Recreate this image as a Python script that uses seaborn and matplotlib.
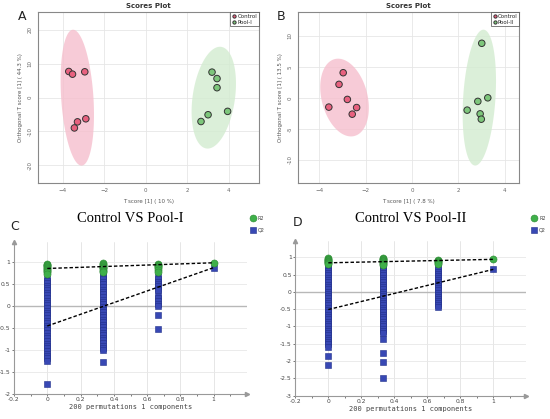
import numpy as np
import pandas as pd
import matplotlib
matplotlib.use("Agg")
import matplotlib.pyplot as plt
import seaborn as sns

sns.set_theme(style="white")
plt.rcParams['font.family'] = ['DejaVu Sans']

# ---------------- Data: score plots ----------------
a_ctrl_t = [-3.70, -3.52, -2.93, -2.88, -3.28, -3.43]
a_ctrl_o = [7.7, 6.9, 7.6, -6.3, -7.2, -9.0]
a_pool_t = [3.19, 3.43, 3.43, 3.94, 3.00, 2.66]
a_pool_o = [7.5, 5.6, 2.9, -4.1, -5.1, -7.1]

b_ctrl_t = [-2.97, -3.15, -2.79, -3.59, -2.39, -2.58]
b_ctrl_o = [4.05, 2.17, -0.26, -1.50, -1.57, -2.64]
b_pool_t = [3.01, 3.27, 2.84, 2.38, 2.94, 2.99]
b_pool_o = [8.8, 0.0, -0.58, -1.99, -2.59, -3.45]

a_xticks = [-4, -2, 0, 2, 4]
a_yticks = [20, 10, 0, -10, -20]
b_xticks = [-4, -2, 0, 2, 4]
b_yticks = [10, 5, 0, -5, -10]

# ---------------- Data: permutation plots ----------------
perm_x = [0, 1/3, 2/3, 1]

c_r2 = [
    [0.97, 0.95, 0.93, 0.91, 0.89, 0.87, 0.85, 0.83, 0.80, 0.77, 0.74],
    [0.98, 0.96, 0.94, 0.92, 0.90, 0.88, 0.86, 0.83, 0.80, 0.77],
    [0.97, 0.95, 0.93, 0.91, 0.89, 0.86, 0.82, 0.78],
    [0.99],
]
c_q2 = [
    [0.62, 0.57, 0.52, 0.46, 0.41, 0.36, 0.30, 0.25, 0.19, 0.13, 0.08, 0.02,
     -0.04, -0.10, -0.15, -0.21, -0.27, -0.33, -0.38, -0.44, -0.50, -0.55,
     -0.61, -0.67, -0.73, -0.79, -0.85, -0.90, -0.96, -1.02, -1.08, -1.14,
     -1.19, -1.25, -1.78],
    [0.72, 0.67, 0.61, 0.55, 0.50, 0.44, 0.38, 0.33, 0.27, 0.21, 0.15, 0.10,
     0.04, -0.02, -0.08, -0.14, -0.19, -0.25, -0.31, -0.37, -0.42, -0.48,
     -0.54, -0.60, -0.66, -0.72, -0.78, -0.84, -0.90, -0.96, -1.00, -1.28],
    [0.66, 0.61, 0.56, 0.51, 0.46, 0.40, 0.36, 0.24, 0.18, 0.12, 0.05, 0.01,
     -0.21, -0.51],
    [0.88],
]
c_r2_int, c_r2_orig = 0.86, 0.99
c_q2_int, c_q2_orig = -0.45, 0.88

d_r2 = [
    [0.97, 0.95, 0.93, 0.91, 0.89, 0.87, 0.85, 0.83, 0.80],
    [0.98, 0.96, 0.94, 0.92, 0.90, 0.88, 0.86, 0.83, 0.80, 0.78],
    [0.92, 0.90, 0.88, 0.86, 0.83, 0.80],
    [0.95],
]
d_q2 = [
    [0.74, 0.68, 0.61, 0.55, 0.48, 0.41, 0.35, 0.28, 0.21, 0.15, 0.08, 0.01,
     -0.06, -0.12, -0.19, -0.26, -0.32, -0.39, -0.46, -0.52, -0.59, -0.66,
     -0.72, -0.79, -0.86, -0.92, -0.99, -1.06, -1.12, -1.19, -1.26, -1.32,
     -1.39, -1.46, -1.52, -1.58, -1.86, -2.11],
    [0.74, 0.68, 0.61, 0.55, 0.48, 0.41, 0.35, 0.28, 0.21, 0.15, 0.08, 0.01,
     -0.06, -0.12, -0.19, -0.26, -0.32, -0.39, -0.46, -0.52, -0.59, -0.66,
     -0.72, -0.79, -0.86, -0.92, -0.99, -1.06, -1.12, -1.20, -1.37, -1.78,
     -2.04, -2.48],
    [0.70, 0.64, 0.58, 0.52, 0.46, 0.40, 0.34, 0.28, 0.22, 0.16, 0.10, 0.04,
     -0.02, -0.08, -0.14, -0.20, -0.26, -0.32, -0.38, -0.44],
    [0.66],
]
d_r2_int, d_r2_orig = 0.84, 0.94
d_q2_int, d_q2_orig = -0.51, 0.65

c_yticks = [1, 0.5, 0, -0.5, -1, -1.5, -2]
d_yticks = [1, 0.5, 0, -0.5, -1, -1.5, -2, -2.5, -3]
perm_xticks = [-0.2, 0, 0.2, 0.4, 0.6, 0.8, 1]

# ---------------- Styling ----------------
CTRL_FILL = "#f6bfcd"
POOL_FILL = "#d3ecd0"
CTRL_PT = "#e8617f"
POOL_PT = "#7dc67b"
R2_COL = "#3fb04a"
R2_EDGE = "#2d8a34"
Q2_COL = "#3848b4"
Q2_EDGE = "#22308a"

W, H = 550, 419
fig = plt.figure(figsize=(W / 100, H / 100), dpi=100)


def ax_px(left, top, right, bottom):
    return fig.add_axes([left / W, 1 - bottom / H, (right - left) / W, (bottom - top) / H])


def conf_ellipse(x, y, n=200):
    x = np.asarray(x); y = np.asarray(y)
    cov = np.cov(x, y)
    vals, vecs = np.linalg.eigh(cov)
    scale = np.sqrt(5.991)
    t = np.linspace(0, 2 * np.pi, n)
    circ = np.vstack([np.cos(t), np.sin(t)])
    pts = vecs @ (np.sqrt(vals)[:, None] * scale * circ)
    return pts[0] + x.mean(), pts[1] + y.mean()


def score_panel(ax, ct, co, pt, po, pool_name, xticks, yticks, xlim, ylim, xlabel, ylabel):
    for tx, oy, col in [(ct, co, CTRL_FILL), (pt, po, POOL_FILL)]:
        ex, ey = conf_ellipse(tx, oy)
        ax.fill(ex, ey, color=col, alpha=0.8, lw=0, zorder=1)
    df = pd.DataFrame({
        "t": ct + pt, "o": co + po,
        "group": ["Control"] * len(ct) + [pool_name] * len(pt),
    })
    sns.scatterplot(data=df, x="t", y="o", hue="group",
                    palette={"Control": CTRL_PT, pool_name: POOL_PT},
                    s=22, edgecolor="#333333", linewidth=0.7, ax=ax, zorder=3,
                    legend=True)
    ax.set_xlim(*xlim); ax.set_ylim(*ylim)
    ax.set_xticks(xticks); ax.set_yticks(yticks)
    ax.set_yticklabels([str(v) for v in yticks], rotation=90, va="center")
    ax.tick_params(labelsize=4, colors="#666666", length=2, width=0.5, pad=2)
    ax.grid(True, color="#e6e6e6", lw=0.6)
    ax.set_axisbelow(True)
    for s in ax.spines.values():
        s.set_color("#888888"); s.set_linewidth(0.8)
    ax.set_xlabel(xlabel, fontsize=4, color="#555555", labelpad=4)
    ax.set_ylabel(ylabel, fontsize=4, color="#555555", labelpad=3)
    ax.set_title("Scores Plot", fontsize=5, fontweight="bold", color="#333333", pad=3)
    leg = ax.legend(loc="upper right", fontsize=4, frameon=True, fancybox=False,
                    borderpad=0.3, handletextpad=0.2, labelspacing=0.1,
                    markerscale=0.5, borderaxespad=0.0, handlelength=0.8)
    leg.get_frame().set_edgecolor("#444444"); leg.get_frame().set_linewidth(0.6)


axA = ax_px(38, 12.3, 259, 182.7)
score_panel(axA, a_ctrl_t, a_ctrl_o, a_pool_t, a_pool_o, "Pool-I",
            a_xticks, a_yticks, (-5.18, 5.45), (-25.2, 25.2),
            "T score [1] ( 10 %)", "Orthogonal T score [1] ( 44.3 %)")
axB = ax_px(298, 12.3, 519.3, 182.7)
score_panel(axB, b_ctrl_t, b_ctrl_o, b_pool_t, b_pool_o, "Pool-II",
            b_xticks, b_yticks, (-4.92, 4.63), (-13.7, 13.8),
            "T score [1] ( 7.8 %)", "Orthogonal T score [1] ( 13.5 %)")


def perm_panel(ax, r2, q2, r2i, r2o, q2i, q2o, yticks, ylim, title):
    qx, qy, rx, ry = [], [], [], []
    for xv, col in zip(perm_x, q2):
        qx += [xv] * len(col); qy += col
    for xv, col in zip(perm_x, r2):
        rx += [xv] * len(col); ry += col
    sns.lineplot(x=[0, 1], y=[q2i, q2o], ax=ax, color="black", lw=1.0,
                 linestyle=(0, (2.5, 1.5)), zorder=5)
    sns.lineplot(x=[0, 1], y=[r2i, r2o], ax=ax, color="black", lw=1.0,
                 linestyle=(0, (2.5, 1.5)), zorder=5)
    sns.scatterplot(x=qx, y=qy, marker="s", s=20, color=Q2_COL, edgecolor=Q2_EDGE,
                    linewidth=0.4, ax=ax, zorder=3)
    sns.scatterplot(x=rx, y=ry, marker="o", s=26, color=R2_COL, edgecolor=R2_EDGE,
                    linewidth=0.4, ax=ax, zorder=4)
    ax.set_xlim(-0.2, 1.2); ax.set_ylim(*ylim)
    ax.set_xticks(perm_xticks)
    ax.set_xticklabels([("%g" % v) for v in perm_xticks])
    ax.set_xticks(np.arange(-0.1, 1.15, 0.2), minor=True)
    ax.set_yticks(yticks)
    ax.set_yticklabels([("%g" % v) for v in yticks])
    ax.tick_params(which="both", labelsize=4.3, colors="#444444", length=1.5,
                   width=0.5, pad=1, direction="out", bottom=True, left=True)
    ax.tick_params(which="minor", length=1.2)
    for v in perm_xticks[1:]:
        ax.axvline(v, color="#e2e2e2", lw=0.6, zorder=0)
    for v in yticks:
        if v != 0:
            ax.axhline(v, color="#e8e8e8", lw=0.6, zorder=0)
    ax.axhline(0, color="#b8b8b8", lw=1.0, zorder=0)
    for s in ["top", "right"]:
        ax.spines[s].set_visible(False)
    for s in ["left", "bottom"]:
        ax.spines[s].set_color("#999999"); ax.spines[s].set_linewidth(0.8)
    ax.plot(1, 0, ">", transform=ax.transAxes, color="#999999", ms=3, clip_on=False)
    ax.plot(0, 1, "^", transform=ax.transAxes, color="#999999", ms=3, clip_on=False)
    ax.set_xlabel("200 permutations 1 components", fontsize=5,
                  family="DejaVu Sans Mono", color="#444444", labelpad=1)
    ax.set_title(title, fontsize=10.5, family="Liberation Serif", color="black", pad=14)


axC = ax_px(14, 241.7, 247, 394)
perm_panel(axC, c_r2, c_q2, c_r2_int, c_r2_orig, c_q2_int, c_q2_orig,
           c_yticks, (-2, 1.47), "Control VS Pool-I")
axD = ax_px(295.3, 241, 526.3, 395.7)
perm_panel(axD, d_r2, d_q2, d_r2_int, d_r2_orig, d_q2_int, d_q2_orig,
           d_yticks, (-3, 1.47), "Control VS Pool-II")

# perm legends (outside axes, top-right)
for lx in (253, 534):
    fig.lines.append(plt.Line2D([lx / W], [1 - 218.3 / H], marker="o", ms=5,
                                color=R2_COL, mec=R2_EDGE, mew=0.4, transform=fig.transFigure))
    fig.lines.append(plt.Line2D([lx / W], [1 - 230 / H], marker="s", ms=4.5,
                                color=Q2_COL, mec=Q2_EDGE, mew=0.4, transform=fig.transFigure))
    fig.text((lx + 5) / W, 1 - 218.3 / H, "R2", fontsize=3.5, va="center", color="#444444")
    fig.text((lx + 5) / W, 1 - 230 / H, "Q2", fontsize=3.5, va="center", color="#444444")

# panel letters
for lab, x, y in [("A", 22, 16), ("B", 281, 17), ("C", 15, 226), ("D", 298, 222)]:
    fig.text(x / W, 1 - y / H, lab, fontsize=9, ha="center", va="center", color="#222222")

fig.savefig("out.png", dpi=100)
